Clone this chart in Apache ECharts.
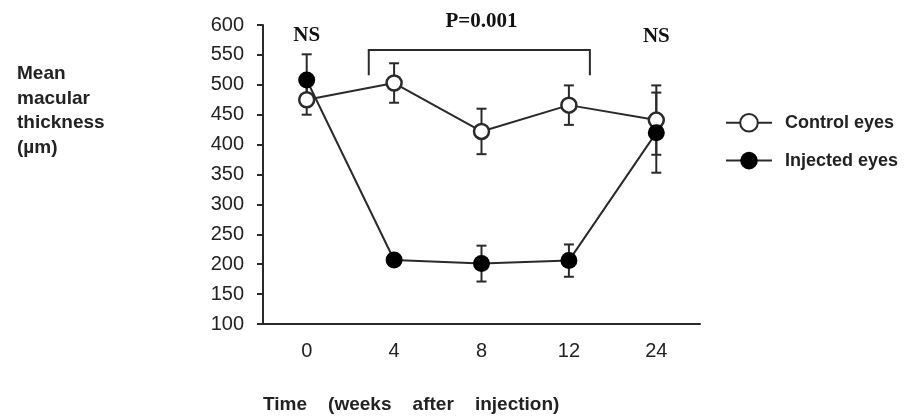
<!DOCTYPE html>
<html>
<head>
<meta charset="utf-8">
<script src="https://cdn.jsdelivr.net/npm/echarts@6/dist/echarts.min.js"></script>
<style>html,body{margin:0;padding:0;background:#fff}#c{width:906px;height:416px}</style>
</head>
<body>
<div id="c"></div>
<script>
const categories = ['0', '4', '8', '12', '24'];
const yTicks = [100, 600, 50]; // min, max, interval
const controlMean = [475, 503, 422, 466, 441];
const controlErr = [25, 33, 38, 33, 58];
const injectedMean = [508, 207, 201, 206, 420];
const injectedErr = [43, 8, 30, 27, 67];
const nsLabels = [[0, 583, 'NS'], [4, 580, 'NS']];
const pLabel = [2, 605, 'P=0.001'];
const bracket = [0.71, 3.24, 558, 516]; // from, to (category index), top, bottom (value)

const LINE = '#2a2a2a';
const chart = echarts.init(document.getElementById('c'), null, {renderer: 'canvas'});

function errSeries(name, mean, err, z) {
  return {
    type: 'custom', name: name + ' err', z: z, silent: true,
    data: mean.map((m, i) => [i, m, err[i]]),
    renderItem: function (params, api) {
      const x = api.value(0), m = api.value(1), e = api.value(2);
      const top = api.coord([x, m + e]), bot = api.coord([x, m - e]);
      const w = 5;
      const st = {stroke: LINE, lineWidth: 2};
      return {type: 'group', children: [
        {type: 'line', shape: {x1: top[0], y1: top[1], x2: bot[0], y2: bot[1]}, style: st},
        {type: 'line', shape: {x1: top[0] - w, y1: top[1], x2: top[0] + w, y2: top[1]}, style: st},
        {type: 'line', shape: {x1: bot[0] - w, y1: bot[1], x2: bot[0] + w, y2: bot[1]}, style: st}
      ]};
    }
  };
}

const option = {
  animation: false,
  grid: {left: 263, right: 206, top: 25, bottom: 92},
  xAxis: {
    type: 'category', data: categories, boundaryGap: true,
    axisLine: {lineStyle: {color: LINE, width: 2}},
    axisTick: {alignWithLabel: true, length: 4, lineStyle: {color: LINE, width: 2}},
    axisLabel: {color: '#222', fontSize: 20, fontFamily: 'Liberation Sans', margin: 17},
    splitLine: {show: false}
  },
  yAxis: {
    type: 'value', min: yTicks[0], max: yTicks[1], interval: yTicks[2],
    axisLine: {show: true, lineStyle: {color: LINE, width: 2}},
    axisTick: {show: true, length: 6, lineStyle: {color: LINE, width: 2}},
    axisLabel: {color: '#222', fontSize: 20, fontFamily: 'Liberation Sans', margin: 19},
    splitLine: {show: false}
  },
  legend: {
    orient: 'vertical', left: 720, top: 108, itemGap: 19,
    itemWidth: 46, itemHeight: 22,
    data: ['Control eyes', 'Injected eyes'],
    textStyle: {color: '#222', fontSize: 18, fontWeight: 'bold', fontFamily: 'Liberation Sans', padding: [0, 0, 0, 8]}
  },
  graphic: [
    {type: 'text', left: 17, top: 62, style: {text: 'Mean\nmacular\nthickness\n(µm)', fontSize: 19, fontWeight: 'bold', lineHeight: 24.5, fontFamily: 'Liberation Sans', fill: '#222'}},
    {type: 'text', left: 263, top: 395, style: {text: 'Time    (weeks    after    injection)', fontSize: 19, fontWeight: 'bold', fontFamily: 'Liberation Sans', fill: '#222'}}
  ],
  series: [
    errSeries('Control', controlMean, controlErr, 2),
    errSeries('Injected', injectedMean, injectedErr, 2),
    {
      name: 'Control eyes', type: 'line', data: controlMean, z: 3,
      symbol: 'circle', symbolSize: 15,
      lineStyle: {color: LINE, width: 2},
      itemStyle: {color: '#fff', borderColor: LINE, borderWidth: 2.5}
    },
    {
      name: 'Injected eyes', type: 'line', data: injectedMean, z: 4,
      symbol: 'circle', symbolSize: 17,
      lineStyle: {color: LINE, width: 2},
      itemStyle: {color: '#000', borderColor: '#000', borderWidth: 0}
    },
    {
      type: 'custom', name: 'annotations', z: 5, silent: true, clip: false,
      data: [[0, 0]],
      renderItem: function (params, api) {
        const a = api.coord([0, bracket[2]]), b = api.coord([1, bracket[2]]);
        const step = b[0] - a[0];
        const x1 = a[0] + bracket[0] * step, x2 = a[0] + bracket[1] * step;
        const yt = a[1], yb = api.coord([0, bracket[3]])[1];
        const kids = [{type: 'polyline', shape: {points: [[x1, yb], [x1, yt], [x2, yt], [x2, yb]]}, style: {stroke: LINE, lineWidth: 2, fill: null}}];
        nsLabels.concat([pLabel]).forEach(function (l) {
          const p = api.coord([l[0], l[1]]);
          kids.push({type: 'text', x: p[0], y: p[1], style: {text: l[2], fontSize: 21, fontWeight: 'bold', fontFamily: 'Liberation Serif', fill: '#111', align: 'center', verticalAlign: 'middle'}});
        });
        return {type: 'group', children: kids};
      }
    }
  ]
};
chart.setOption(option);
</script>
</body>
</html>
